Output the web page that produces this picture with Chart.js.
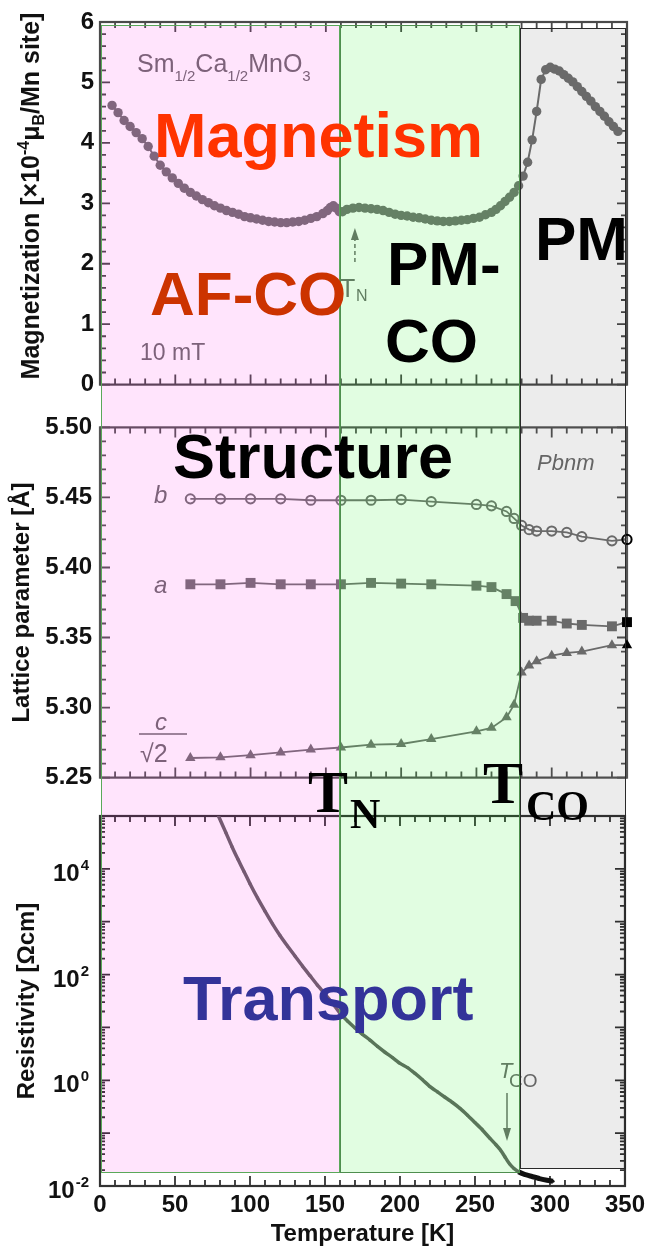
<!DOCTYPE html>
<html><head><meta charset="utf-8">
<script src="https://cdn.jsdelivr.net/npm/chart.js@4.4.1/dist/chart.umd.min.js"></script>
<style>
html,body{margin:0;padding:0;background:#fff;}
#wrap{position:relative;width:650px;height:1251px;overflow:hidden;background:#fff;}
#wrap canvas{position:absolute;left:0;}
#bands,#labels{pointer-events:none;}
</style></head><body>
<div id="wrap">
<canvas id="c1" width="650" height="405" style="top:0px"></canvas>
<canvas id="c2" width="650" height="395" style="top:405px"></canvas>
<canvas id="c3" width="650" height="451" style="top:800px"></canvas>
<canvas id="bands" width="650" height="1251" style="top:0px"></canvas>
<canvas id="labels" width="650" height="1251" style="top:0px"></canvas>
</div>
<script>
// ---------------- DATA ----------------
// Magnetization (x10^-4 muB / Mn site) vs temperature (K)
const magT = [8,12,16,20,24,28,32,36,40,44,
  48,52,56,60,64,68,72,76,80,84,
  88,92,96,100,104,108,112,116,120,124,
  128,132,136,140,144,148,151,153,155,157,
  159,161,164,168,172,176,180,184,188,192,
  196,200,204,208,212,216,220,224,228,232,
  236,240,244,248,252,256,260,263,266,269,
  272,275,278,281,284,287,290,293,296,299,
  302,305,308,311,314,317,320,323,326,329,
  332,335,338,341,344];
const magM = [4.62,4.50,4.37,4.27,4.17,4.07,3.94,3.78,3.63,3.52,
  3.42,3.33,3.25,3.18,3.12,3.06,3.01,2.96,2.92,2.88,
  2.85,2.82,2.78,2.76,2.74,2.72,2.70,2.69,2.68,2.68,
  2.69,2.70,2.72,2.75,2.78,2.83,2.88,2.93,2.96,2.92,
  2.86,2.86,2.90,2.92,2.93,2.92,2.91,2.90,2.88,2.85,
  2.82,2.80,2.79,2.77,2.76,2.74,2.72,2.71,2.70,2.70,
  2.71,2.72,2.73,2.75,2.77,2.81,2.85,2.90,2.96,3.03,
  3.10,3.18,3.29,3.45,3.68,4.05,4.52,5.05,5.21,5.25,
  5.22,5.19,5.13,5.07,5.01,4.93,4.85,4.77,4.69,4.60,
  4.52,4.44,4.35,4.27,4.19];

// Lattice parameters (Angstrom)
const latTb = [60,80,100,120,140,160,180,200,220,250,260,270,275,280,285,290,300,310,320,340,350];
const latB  = [5.449,5.449,5.449,5.449,5.448,5.448,5.448,5.4485,5.447,5.445,5.444,5.440,5.435,5.430,5.427,5.426,5.426,5.425,5.422,5.419,5.420];
const latTa = [60,80,100,120,140,160,180,200,220,250,260,270,276,281,285,290,300,310,320,340,350];
const latA  = [5.388,5.388,5.389,5.388,5.388,5.388,5.389,5.3885,5.388,5.387,5.386,5.381,5.376,5.364,5.362,5.362,5.362,5.360,5.359,5.358,5.361];
const latTc = [60,80,100,120,140,160,180,200,220,250,260,270,275,280,285,290,300,310,320,340,350];
const latC  = [5.264,5.2645,5.266,5.268,5.270,5.2715,5.2735,5.274,5.2775,5.283,5.2855,5.293,5.302,5.325,5.330,5.333,5.337,5.339,5.340,5.3445,5.3445];

// Resistivity: log10(rho / Ohm cm) vs temperature
const rhoT = [79,84,88,92,96,100,105,110,115,120,125,130,135,140,145,150,155,160,165,170,
  175,180,185,190,195,200,205,210,215,220,225,230,235,240,245,250,255,260,264,267,
  270,273,276,279,283,288,293,298,302];
const rhoLog10 = [5.0,4.68,4.42,4.18,3.95,3.72,3.45,3.20,2.96,2.74,2.54,2.35,2.16,1.98,1.80,1.63,1.46,1.27,1.12,0.99,
  0.87,0.76,0.64,0.53,0.43,0.32,0.24,0.13,0.01,-0.12,-0.22,-0.32,-0.42,-0.53,-0.66,-0.80,-0.94,-1.10,-1.22,-1.32,
  -1.45,-1.58,-1.67,-1.73,-1.78,-1.82,-1.86,-1.89,-1.91];

// Axis ticks
const tempTicksStep = 50;
const magTickStep = 1;
const latTickStep = 0.05;
const rhoDecades = [-2,-1,0,1,2,3,4,5];
const rhoLabelExps = [-2,0,2,4];

// Phase regions (K)
const regionBounds = [0,160,280,350];
const regionNames = ['AF-CO','PM-CO','PM'];

// ---------------- STYLE ----------------
const FONT = "'Liberation Sans', Arial, Helvetica, sans-serif";
const SERIF = "'Liberation Serif', 'Times New Roman', serif";
const GRAY = '#6e6e6e';
const MARK = '#737373';
Chart.defaults.font.family = FONT;
Chart.defaults.color = '#111';

const framePlugin = {
  id: 'frame',
  beforeDatasetsDraw(chart, args, o) {
    const {ctx, chartArea: a} = chart;
    const x = chart.scales.x, y = chart.scales.y;
    ctx.save();
    ctx.strokeStyle = o.color || '#555';
    ctx.lineWidth = 2.2;
    ctx.strokeRect(a.left, a.top, a.right - a.left, a.bottom - a.top);
    ctx.lineWidth = 1.8;
    ctx.beginPath();
    let n = Math.round((x.max - x.min) / o.xMinor), every = Math.round(o.xMajor / o.xMinor);
    for (let i = 0; i <= n; i++) {
      const px = x.getPixelForValue(x.min + i * o.xMinor);
      const L = i % every === 0 ? 10 : 6;
      ctx.moveTo(px, a.bottom); ctx.lineTo(px, a.bottom - L);
      ctx.moveTo(px, a.top); ctx.lineTo(px, a.top + L);
    }
    if (o.log) {
      const e0 = Math.round(Math.log10(y.min)), e1 = Math.round(Math.log10(y.max));
      for (let e = e0; e <= e1; e++) {
        for (let m = 1; m < 10; m++) {
          if (e === e1 && m > 1) break;
          const py = y.getPixelForValue(m * Math.pow(10, e));
          const L = m === 1 ? 10 : 5;
          ctx.moveTo(a.left, py); ctx.lineTo(a.left + L, py);
          ctx.moveTo(a.right, py); ctx.lineTo(a.right - L, py);
        }
      }
    } else {
      n = Math.round((y.max - y.min) / o.yMinor); every = Math.round(o.yMajor / o.yMinor);
      for (let i = 0; i <= n; i++) {
        const py = y.getPixelForValue(y.min + i * o.yMinor);
        const L = i % every === 0 ? 10 : 6;
        ctx.moveTo(a.left, py); ctx.lineTo(a.left + L, py);
        ctx.moveTo(a.right, py); ctx.lineTo(a.right - L, py);
      }
    }
    ctx.stroke();
    ctx.restore();
  }
};

function run(ctx, pieces, x, base) {
  for (const p of pieces) {
    ctx.font = p[1];
    ctx.fillText(p[0], x, base + (p[2] || 0));
    x += ctx.measureText(p[0]).width;
  }
  return x;
}

const annot1 = {
  id: 'annot1',
  afterDatasetsDraw(chart) {
    const ctx = chart.ctx;
    ctx.save();
    ctx.fillStyle = GRAY; ctx.strokeStyle = GRAY;
    run(ctx, [['Sm', `25px ${FONT}`], ['1/2', `15px ${FONT}`, 9], ['Ca', `25px ${FONT}`], ['1/2', `15px ${FONT}`, 9], ['MnO', `25px ${FONT}`], ['3', `15px ${FONT}`, 9]], 137, 72);
    ctx.font = `23px ${FONT}`;
    ctx.fillText('10 mT', 140, 360);
    // small T_N marker
    const xn = chart.scales.x.getPixelForValue(regionBounds[1]) + 14;
    ctx.font = `25px ${FONT}`; ctx.fillText('T', xn - 15, 297);
    ctx.font = `16px ${FONT}`; ctx.fillText('N', xn + 1, 301);
    ctx.lineWidth = 1.5; ctx.setLineDash([4, 3]);
    ctx.beginPath(); ctx.moveTo(xn, 262); ctx.lineTo(xn, 236); ctx.stroke();
    ctx.setLineDash([]);
    ctx.beginPath(); ctx.moveTo(xn, 228); ctx.lineTo(xn - 4, 240); ctx.lineTo(xn + 4, 240); ctx.closePath(); ctx.fill();
    ctx.restore();
  },
  afterDraw(chart) {
    const ctx = chart.ctx;
    ctx.save();
    ctx.fillStyle = '#111';
    ctx.translate(30, 196);
    ctx.rotate(-Math.PI / 2);
    const pieces = [['Magnetization [×10', `bold 25px ${FONT}`], ['-4', `bold 16px ${FONT}`, -10], ['μ', `bold 25px ${FONT}`], ['B', `bold 16px ${FONT}`, 5], ['/Mn site]', `bold 25px ${FONT}`]];
    let w = 0;
    for (const p of pieces) { ctx.font = p[1]; w += ctx.measureText(p[0]).width; }
    run(ctx, pieces, -w / 2, 9);
    ctx.restore();
  }
};

const annot2 = {
  id: 'annot2',
  afterDatasetsDraw(chart) {
    const ctx = chart.ctx;
    ctx.save();
    ctx.fillStyle = GRAY; ctx.strokeStyle = GRAY;
    ctx.font = `italic 24px ${FONT}`;
    ctx.fillText('b', 154, 98);
    ctx.fillText('a', 154, 188);
    ctx.fillText('c', 155, 325);
    ctx.font = `italic 22px ${FONT}`;
    ctx.fillText('Pbnm', 537, 65);
    ctx.lineWidth = 1.5;
    ctx.beginPath(); ctx.moveTo(139, 329); ctx.lineTo(187, 329); ctx.stroke();
    ctx.font = `25px ${FONT}`;
    ctx.fillText('√2', 140, 357);
    ctx.restore();
  }
};

const annot3 = {
  id: 'annot3',
  afterDatasetsDraw(chart) {
    const ctx = chart.ctx;
    ctx.save();
    ctx.fillStyle = GRAY; ctx.strokeStyle = GRAY;
    ctx.font = `italic 22px ${FONT}`; ctx.fillText('T', 499, 278);
    ctx.font = `19px ${FONT}`; ctx.fillText('CO', 509, 287);
    const xa = 507;
    ctx.lineWidth = 1.5;
    ctx.beginPath(); ctx.moveTo(xa, 293); ctx.lineTo(xa, 332); ctx.stroke();
    ctx.beginPath(); ctx.moveTo(xa, 341); ctx.lineTo(xa - 4, 328); ctx.lineTo(xa + 4, 328); ctx.closePath(); ctx.fill();
    ctx.restore();
  },
  afterDraw(chart) {
    const ctx = chart.ctx, y = chart.scales.y;
    ctx.save();
    ctx.fillStyle = '#111';
    const right = 89;
    for (const e of rhoLabelExps) {
      const py = y.getPixelForValue(Math.pow(10, e));
      const sup = String(e);
      ctx.font = `bold 15px ${FONT}`; const sw = ctx.measureText(sup).width;
      ctx.font = `bold 24px ${FONT}`; const tw = ctx.measureText('10').width;
      ctx.fillText('10', right - sw - tw - 1, py + 12);
      ctx.font = `bold 15px ${FONT}`; ctx.fillText(sup, right - sw, py + 1);
    }
    ctx.restore();
  }
};

const yFit = s => { s.width = 100; };
const noGrid = {display: false, drawTicks: false};
const tickFont = {size: 24, weight: 'bold'};
const hiddenX = {type: 'linear', min: regionBounds[0], max: regionBounds[3], display: false};
const baseOpts = {responsive: false, animation: false, devicePixelRatio: 1, events: []};

const darkAt = (ctx, base) => (ctx.raw && ctx.raw.x >= 350 ? '#000' : base);

// ---- Chart 1: Magnetization
const ch1 = new Chart(document.getElementById('c1'), {
  type: 'line',
  data: {datasets: [{
    data: magT.map((t, i) => ({x: t, y: magM[i]})),
    borderColor: MARK, borderWidth: 2, pointRadius: 4.7, pointBorderWidth: 0,
    pointBackgroundColor: MARK, tension: 0, clip: false
  }]},
  options: Object.assign({}, baseOpts, {
    layout: {padding: {top: 22, bottom: 16, right: 23, left: 0}},
    plugins: {legend: {display: false}, tooltip: {enabled: false},
      frame: {xMajor: 50, xMinor: 10, yMajor: 1, yMinor: 0.2, color: '#4a4a4a'}},
    scales: {
      x: hiddenX,
      y: {type: 'linear', min: 0, max: 6, afterFit: yFit, grid: noGrid, border: {display: false},
        ticks: {stepSize: magTickStep, padding: 6, color: '#111', font: tickFont}}
    }
  }),
  plugins: [framePlugin, annot1]
});

// ---- Chart 2: Lattice
const ch2 = new Chart(document.getElementById('c2'), {
  type: 'line',
  data: {datasets: [
    {data: latTb.map((t, i) => ({x: t, y: latB[i]})), borderColor: MARK, borderWidth: 1.8,
     pointStyle: 'circle', pointRadius: 4.6, pointBorderWidth: 2,
     pointBorderColor: c => darkAt(c, MARK), pointBackgroundColor: 'rgba(0,0,0,0)', tension: 0, clip: false},
    {data: latTa.map((t, i) => ({x: t, y: latA[i]})), borderColor: MARK, borderWidth: 1.8,
     pointStyle: 'rect', pointRadius: 7, pointBorderWidth: 0,
     pointBackgroundColor: c => darkAt(c, MARK), tension: 0, clip: false},
    {data: latTc.map((t, i) => ({x: t, y: latC[i]})), borderColor: MARK, borderWidth: 1.8,
     pointStyle: 'triangle', pointRadius: 6, pointBorderWidth: 0,
     pointBackgroundColor: c => darkAt(c, MARK), tension: 0, clip: false}
  ]},
  options: Object.assign({}, baseOpts, {
    layout: {padding: {top: 12, bottom: 17, right: 23, left: 0}},
    plugins: {legend: {display: false}, tooltip: {enabled: false},
      frame: {xMajor: 50, xMinor: 10, yMajor: 0.05, yMinor: 0.01, color: '#555'}},
    scales: {
      x: hiddenX,
      y: {type: 'linear', min: 5.25, max: 5.5, afterFit: yFit, grid: noGrid, border: {display: false},
        ticks: {stepSize: latTickStep, padding: 8, color: '#111', font: tickFont, callback: v => Number(v).toFixed(2)},
        title: {display: true, text: 'Lattice parameter [Å]', color: '#111', font: {size: 24, weight: 'bold'}, padding: {top: 8, bottom: 0}}}
    }
  }),
  plugins: [framePlugin, annot2]
});

// ---- Chart 3: Resistivity
const ch3 = new Chart(document.getElementById('c3'), {
  type: 'line',
  data: {datasets: [{
    data: rhoT.map((t, i) => ({x: t, y: Math.pow(10, rhoLog10[i])})),
    borderColor: '#656565', borderWidth: 3.5, pointRadius: 1.6, pointBorderWidth: 0,
    pointBackgroundColor: c => (c.raw && c.raw.x >= regionBounds[2] ? '#111' : '#656565'),
    tension: 0.2,
    segment: {
      borderColor: c => (c.p0.parsed.x >= regionBounds[2] - 1 ? '#111' : undefined),
      borderWidth: c => (c.p0.parsed.x >= regionBounds[2] - 1 ? 5 : undefined)
    }
  }]},
  options: Object.assign({}, baseOpts, {
    layout: {padding: {top: 16, bottom: 0, right: 23, left: 0}},
    plugins: {legend: {display: false}, tooltip: {enabled: false},
      frame: {xMajor: 50, xMinor: 10, log: true, color: '#333'}},
    scales: {
      x: {type: 'linear', min: regionBounds[0], max: regionBounds[3], afterFit: s => { s.height = 65; },
        grid: noGrid, border: {display: false},
        ticks: {stepSize: tempTicksStep, padding: 5, color: '#111', font: tickFont, maxRotation: 0, autoSkip: false},
        title: {display: true, text: 'Temperature [K]', color: '#111', font: {size: 24, weight: 'bold'}, padding: {top: 0, bottom: 2}}},
      y: {type: 'logarithmic', min: 0.01, max: 1e5, afterFit: yFit, grid: noGrid, border: {display: false},
        afterBuildTicks: s => { s.ticks = rhoDecades.map(e => ({value: Math.pow(10, e)})); },
        ticks: {callback: () => ''},
        title: {display: true, text: 'Resistivity [Ωcm]', color: '#111', font: {size: 24, weight: 'bold'}, padding: {top: 13, bottom: 0}}}
    }
  }),
  plugins: [framePlugin, annot3]
});

// ---- Phase bands (translucent overlay tinting everything below)
(function drawBands() {
  const xs = ch3.scales.x;
  const c3top = ch3.canvas.offsetTop;
  const bctx = document.getElementById('bands').getContext('2d');
  const fills = ['rgba(255,0,226,0.106)', 'rgba(0,237,0,0.118)', 'rgba(0,0,0,0.075)'];
  const edges = ['#5aa85a', '#4e8e4e', '#2a2a2a'];
  const insetTop = [3, 3, 6], insetBot = [13, 13, 17];
  const box = i => {
    const x0 = Math.round(xs.getPixelForValue(regionBounds[i])) + (i === 0 ? 1 : 0);
    const x1 = Math.round(xs.getPixelForValue(regionBounds[i + 1])) + (i === 2 ? 1 : 0);
    const y0 = ch1.chartArea.top + insetTop[i];
    const y1 = c3top + ch3.chartArea.bottom - insetBot[i];
    return [x0, y0, x1, y1];
  };
  for (let i = 0; i < 3; i++) {
    const [x0, y0, x1, y1] = box(i);
    bctx.fillStyle = fills[i];
    bctx.fillRect(x0, y0, x1 - x0, y1 - y0);
  }
  for (let i = 0; i < 3; i++) {
    const [x0, y0, x1, y1] = box(i);
    bctx.strokeStyle = edges[i]; bctx.lineWidth = 1;
    bctx.strokeRect(x0 + 0.5, y0 + 0.5, x1 - x0 - 1, y1 - y0 - 1);
  }
})();

// ---- Big overlay labels
(function drawLabels() {
  const L = document.getElementById('labels').getContext('2d');
  function put(s, x, y, font, color) { L.font = font; L.fillStyle = color; L.fillText(s, x, y); }
  const B = `bold 62px ${FONT}`;
  put('Magnetism', 154, 157, `bold 63px ${FONT}`, '#ff3300');
  put(regionNames[0], 150, 315, B, '#cc3300');
  put('PM-', 387, 285, B, '#000');
  put('CO', 385, 362, B, '#000');
  put(regionNames[2], 535, 260, B, '#000');
  put('Structure', 173, 478, `bold 63px ${FONT}`, '#000');
  put('Transport', 183, 1020, `bold 63px ${FONT}`, '#333399');
  const xs = ch3.scales.x;
  const xN = xs.getPixelForValue(regionBounds[1]);
  const xC = xs.getPixelForValue(regionBounds[2]);
  put('T', xN - 32, 812, `bold 60px ${SERIF}`, '#000');
  put('N', xN + 10, 828, `bold 42px ${SERIF}`, '#000');
  put('T', xC - 37, 803, `bold 60px ${SERIF}`, '#000');
  put('CO', xC + 6, 820, `bold 42px ${SERIF}`, '#000');
})();
</script>
</body></html>
